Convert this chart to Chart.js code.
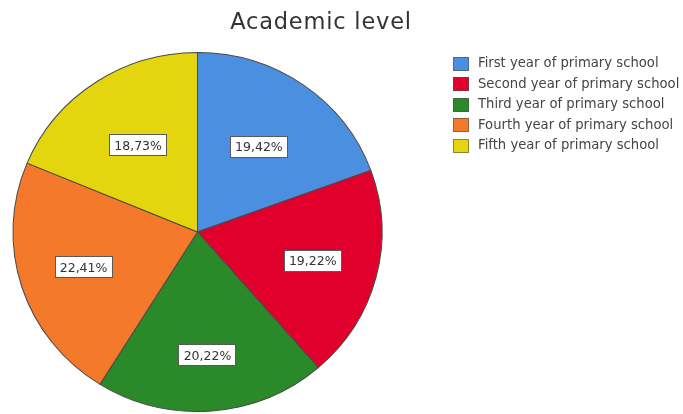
<!DOCTYPE html>
<html>
<head>
<meta charset="utf-8">
<title>Academic level</title>
<script src="https://cdn.jsdelivr.net/npm/chart.js@4.4.1/dist/chart.umd.min.js"></script>
<style>
  html, body { margin: 0; padding: 0; background: #ffffff; }
  #chart { display: block; }
</style>
</head>
<body>
<canvas id="chart" width="683" height="414"></canvas>
<script>
// Academic level distribution (percent of respondents)
const levels = [
  "First year of primary school",
  "Second year of primary school",
  "Third year of primary school",
  "Fourth year of primary school",
  "Fifth year of primary school",
]
const percentages = [19.42, 19.22, 20.22, 22.41, 18.73]
const sliceColors = ["#4a8fe0", "#e0002b", "#2a8a2a", "#f5792a", "#e3d60f"]
const chartTitle = "Academic level"

// SPSS style percent label: comma decimal separator
const formatPct = (v) => v.toFixed(2).replace(".", ",") + "%"

// the exported pie is a touch wider than tall
const stretchX = 1.014
const stretchY = 0.986

const pieStretch = {
  id: "pieStretch",
  beforeDatasetsDraw(chart) {
    const arc = chart.getDatasetMeta(0).data[0]
    const ctx = chart.ctx
    ctx.save()
    ctx.translate(arc.x, arc.y)
    ctx.scale(stretchX, stretchY)
    ctx.translate(-arc.x, -arc.y)
  },
  afterDatasetsDraw(chart) {
    chart.ctx.restore()
  },
}

// White boxed value labels inside each slice
const sliceLabels = {
  id: "sliceLabels",
  afterDatasetsDraw(chart) {
    const ctx = chart.ctx
    const meta = chart.getDatasetMeta(0)
    ctx.save()
    ctx.font = "12.5px 'DejaVu Sans', sans-serif"
    ctx.textAlign = "center"
    ctx.textBaseline = "middle"
    meta.data.forEach((arc, i) => {
      const { x, y, startAngle, endAngle, outerRadius } = arc.getProps(
        ["x", "y", "startAngle", "endAngle", "outerRadius"], true)
      const mid = (startAngle + endAngle) / 2
      // labels sit a little further out on the lower half
      const dist = outerRadius * (0.57 + 0.12 * (1 + Math.sin(mid)) / 2)
      const lx = x + Math.cos(mid) * dist * stretchX
      const ly = y + Math.sin(mid) * dist * stretchY
      const text = formatPct(percentages[i])
      const w = Math.round(ctx.measureText(text).width + 10)
      const h = 22
      const bx = Math.round(lx - w / 2)
      const by = Math.round(ly - h / 2)
      ctx.fillStyle = "#ffffff"
      ctx.fillRect(bx, by, w, h)
      ctx.strokeStyle = "#5a5a5a"
      ctx.lineWidth = 1
      ctx.strokeRect(bx + 0.5, by + 0.5, w - 1, h - 1)
      ctx.fillStyle = "#333333"
      ctx.fillText(text, lx, ly + 1)
    })
    ctx.restore()
  },
}

// Title and legend on the right
const sideLegend = {
  id: "sideLegend",
  afterDraw(chart) {
    const ctx = chart.ctx
    ctx.save()
    ctx.fillStyle = "#333333"
    ctx.font = "22.5px 'DejaVu Sans', sans-serif"
    ctx.letterSpacing = "0.8px"
    ctx.textAlign = "center"
    ctx.textBaseline = "alphabetic"
    ctx.fillText(chartTitle, 321, 29)
    ctx.letterSpacing = "0px"

    ctx.font = "13.2px 'DejaVu Sans', sans-serif"
    ctx.textAlign = "left"
    ctx.textBaseline = "middle"
    chart.data.labels.forEach((label, i) => {
      const cy = 64 + i * 20.4
      ctx.fillStyle = sliceColors[i]
      ctx.fillRect(453, Math.round(cy - 7), 16, 14)
      ctx.strokeStyle = "rgba(80,80,80,0.6)"
      ctx.lineWidth = 1
      ctx.strokeRect(453.5, Math.round(cy - 7) + 0.5, 15, 13)
      ctx.fillStyle = "#444444"
      ctx.fillText(label, 478, cy)
    })
    ctx.restore()
  },
}

new Chart(document.getElementById("chart"), {
  type: "pie",
  data: {
    labels: levels,
    datasets: [
      {
        data: percentages,
        backgroundColor: sliceColors,
        borderColor: "#4a4a4a",
        borderWidth: 1,
      },
    ],
  },
  options: {
    responsive: false,
    animation: false,
    radius: 182,
    layout: {
      padding: { left: 15, right: 303, top: 50, bottom: 0 },
    },
    plugins: {
      legend: { display: false },
      title: { display: false },
      tooltip: { enabled: false },
    },
  },
  plugins: [pieStretch, sliceLabels, sideLegend],
})
</script>
</body>
</html>
